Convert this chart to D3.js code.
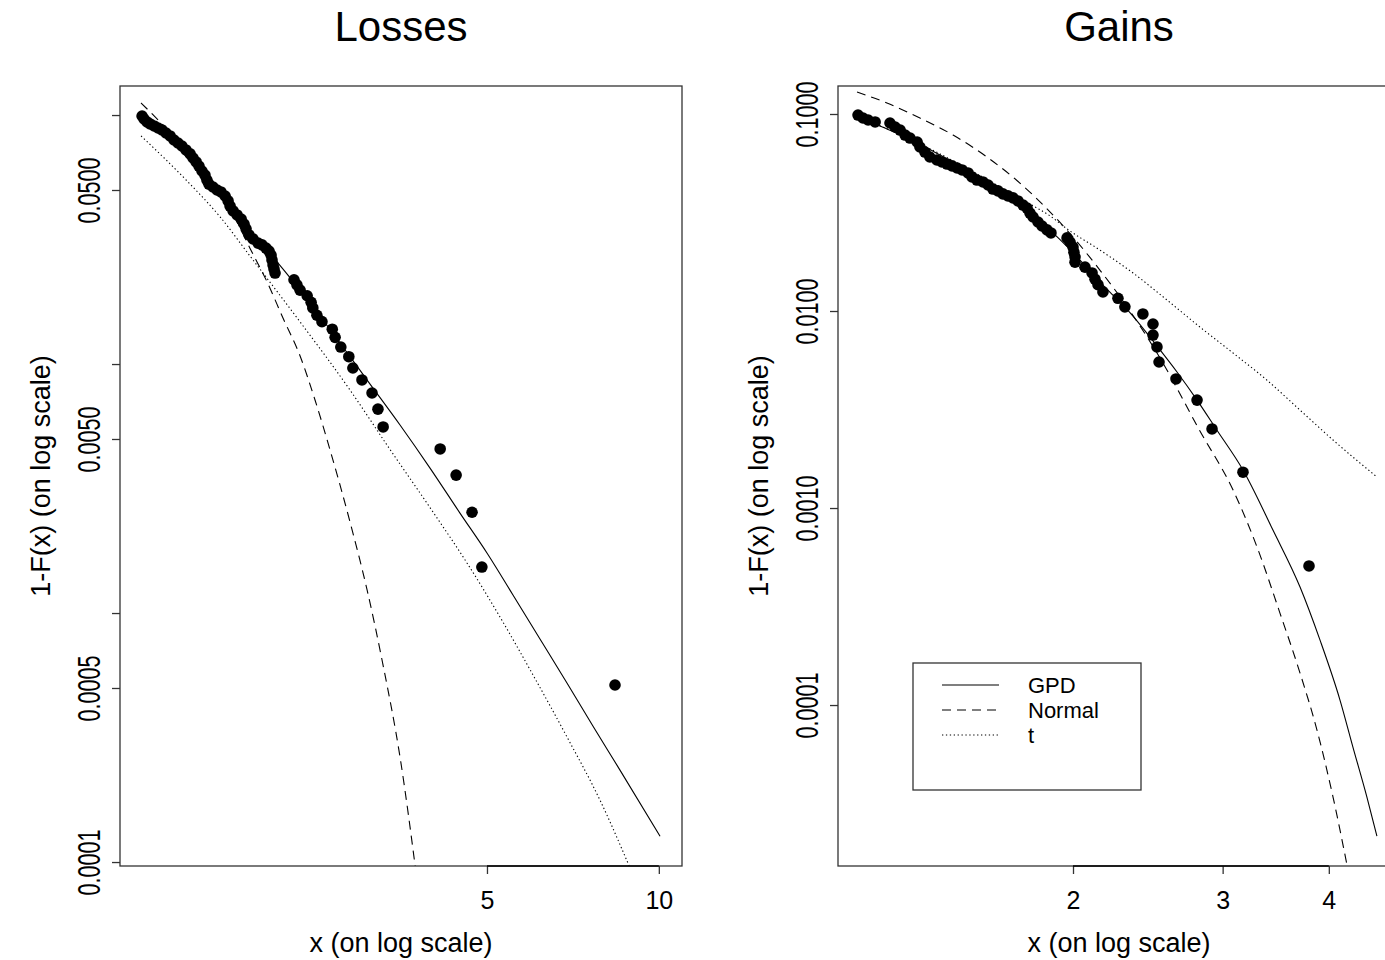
<!DOCTYPE html>
<html>
<head>
<meta charset="utf-8">
<script src="https://cdn.jsdelivr.net/npm/d3@7"></script>
<style>
  body { margin: 0; background: #fff; }
  text { font-family: "Liberation Sans", Arial, Helvetica, sans-serif; fill: #000; }
</style>
</head>
<body>
<div id="chart"></div>
<script>
// ---- Losses: empirical tail points ----
const lossX = [1.244,1.254,1.269,1.285,1.306,1.327,1.348,1.370,1.393,1.415,1.438,1.461,1.485,1.510,1.528,1.547,1.565,1.584,1.603,1.616,1.629,1.656,1.683,1.710,1.739,1.760,1.774,1.796,1.825,1.855,1.877,1.892,1.915,1.946,1.986,2.018,2.051,2.076,2.093,2.101,2.110,2.118,2.127,
  2.296,2.323,2.353,2.421,2.460,2.477,2.518,2.570,2.679,2.710,2.773,2.864,2.911,3.020,3.145,3.221,3.289,4.140,4.415,4.708,4.898,8.380];
const lossY = [0.0991,0.0964,0.0938,0.0921,0.0904,0.0887,0.0871,0.0847,0.0824,0.0794,0.0772,0.0751,0.0724,0.0698,0.0672,0.0648,0.0624,0.0596,0.0574,0.0548,0.0528,0.0514,0.0500,0.0491,0.0473,0.0452,0.0431,0.0412,0.0397,0.0382,0.0365,0.0349,0.0330,0.0318,0.0306,0.0301,0.0292,0.0284,0.0274,0.0262,0.0250,0.0241,0.0232,
  0.0218,0.0208,0.0198,0.0188,0.0177,0.0168,0.0157,0.0148,0.0138,0.0128,0.0117,0.0107,0.00964,0.00863,0.00765,0.00659,0.00559,0.00456,0.00358,0.00254,0.00153,0.000514];

// Losses: fitted curves
const lossGpdX = [1.244,1.450,1.636,1.870,2.144,2.449,2.764,3.120,3.521,3.974,4.484,5.000,5.553,6.192,6.904,7.665,8.550,10.05];
const lossGpdY = [0.0991,0.0724,0.0524,0.0368,0.0257,0.01758,0.01215,0.00831,0.00569,0.00382,0.00252,0.001742,0.001182,0.000787,0.000524,0.000352,0.000234,0.000127];
const lossNormX = [1.239,1.365,1.510,1.670,1.810,1.922,2.060,2.196,2.353,2.499,2.655,2.878,3.083,3.288,3.521,3.770];
const lossNormY = [0.1118,0.0895,0.0698,0.0519,0.0386,0.0292,0.02136,0.01531,0.01077,0.00717,0.00452,0.00232,0.001238,0.000618,0.000264,0.0000847];
const lossTX = [1.239,1.492,1.704,1.922,2.353,2.878,3.368,4.022,4.613,5.270,6.020,6.904,7.885,9.010];
const lossTY = [0.0824,0.0543,0.0390,0.02716,0.01476,0.00786,0.00460,0.002545,0.001589,0.000964,0.000564,0.000318,0.0001775,0.0000887];

// ---- Gains: empirical tail points ----
const gainX = [1.117,1.132,1.148,1.170,1.218,1.235,1.252,1.269,1.286,1.311,1.321,1.339,1.357,1.383,1.402,1.422,1.441,1.461,1.481,1.505,1.521,1.542,1.567,1.589,1.610,1.632,1.654,1.677,1.700,1.723,1.747,1.766,1.780,1.795,1.819,1.839,1.864,1.884,
  1.968,1.984,2.000,2.005,2.011,2.011,2.066,2.106,2.123,2.140,2.169,2.259,2.302,2.417,2.484,2.484,2.511,2.525,2.644,2.799,2.915,3.170,3.791];
const gainY = [0.0988,0.0954,0.0932,0.0911,0.0900,0.0859,0.0829,0.0782,0.0755,0.0721,0.0680,0.0641,0.0605,0.0584,0.0571,0.0557,0.0545,0.0532,0.0520,0.0502,0.0479,0.0462,0.0452,0.0436,0.0416,0.0407,0.0393,0.0384,0.0375,0.0362,0.0345,0.0333,0.0314,0.0300,0.0283,0.0270,0.0258,0.0249,
  0.0235,0.0224,0.0211,0.0199,0.0188,0.0177,0.0167,0.0156,0.0145,0.0136,0.0125,0.0116,0.0105,0.00966,0.00859,0.00755,0.00657,0.00551,0.00452,0.00353,0.00252,0.00152,0.000508];

// Gains: fitted curves
const gainGpdX = [1.117,1.186,1.286,1.395,1.513,1.641,1.795,1.894,2.038,2.151,2.353,2.511,2.651,2.799,2.953,3.170,3.438,3.700,3.905,4.123,4.270,4.435,4.557];
const gainGpdY = [0.0977,0.0869,0.0746,0.0619,0.0508,0.0411,0.0304,0.0249,0.01815,0.01404,0.00943,0.00664,0.0049,0.00353,0.00249,0.00156,0.000773,0.000397,0.000214,0.000106,0.0000612,0.0000341,0.0000216];
const gainNormX = [1.114,1.208,1.321,1.445,1.584,1.732,1.864,2.000,2.151,2.334,2.532,2.821,3.086,3.293,3.504,3.700,3.874,4.046,4.225];
const gainNormY = [0.1293,0.1137,0.0954,0.0782,0.0605,0.0446,0.0330,0.02375,0.01614,0.0100,0.00577,0.00246,0.001234,0.000634,0.000293,0.0001453,0.0000746,0.0000341,0.0000137];
const gainTX = [1.117,1.186,1.286,1.395,1.513,1.641,1.780,1.879,1.968,2.151,2.353,2.580,2.821,3.086,3.382,3.700,4.046,4.557];
const gainTY = [0.0965,0.0869,0.0746,0.0627,0.0520,0.0426,0.0349,0.0304,0.0261,0.0204,0.0156,0.01137,0.00829,0.00612,0.00446,0.00314,0.002214,0.001437];

// ---- ticks ----
const lossXTicks = [5, 10];
const lossYTicks = [0.1, 0.05, 0.01, 0.005, 0.001, 0.0005, 0.0001];
const lossYLabelled = [0.05, 0.005, 0.0005, 0.0001];
const gainXTicks = [2, 3, 4];
const gainYTicks = [0.1, 0.01, 0.001, 0.0001];
const gainYLabelled = [0.1, 0.01, 0.001, 0.0001];

const legendNames = ["GPD", "Normal", "t"];
const dashes = { GPD: null, Normal: "9,6", t: "1.3,2.6" };

const W = 1385, H = 960;
const svg = d3.select("#chart").append("svg")
    .attr("width", W)
    .attr("height", H);

function drawPanel(p) {
    const x = d3.scaleLog().domain(p.xDomain).range([p.left, p.right]);
    const y = d3.scaleLog().domain(p.yDomain).range([p.bottom, p.top]);

    svg.append("clipPath").attr("id", "clip-" + p.name)
        .append("rect")
        .attr("x", p.left).attr("y", p.top)
        .attr("width", p.right - p.left).attr("height", p.bottom - p.top);

    const g = svg.append("g");
    const plot = g.append("g").attr("clip-path", "url(#clip-" + p.name + ")");

    const line = d3.line()
        .x((d) => x(d[0]))
        .y((d) => y(d[1]))
        .curve(d3.curveMonotoneX);

    p.curves.forEach((c) => {
        plot.append("path")
            .datum(d3.zip(c.xs, c.ys))
            .attr("d", line)
            .attr("fill", "none")
            .attr("stroke", "#000")
            .attr("stroke-width", 1.1)
            .attr("stroke-dasharray", dashes[c.name]);
    });

    plot.selectAll("circle.pt")
        .data(d3.zip(p.px, p.py))
        .enter().append("circle")
        .attr("class", "pt")
        .attr("cx", (d) => x(d[0]))
        .attr("cy", (d) => y(d[1]))
        .attr("r", 5.8)
        .attr("fill", "#000");

    // box
    g.append("rect")
        .attr("x", p.left).attr("y", p.top)
        .attr("width", p.right - p.left).attr("height", p.bottom - p.top)
        .attr("fill", "none")
        .attr("stroke", "#333")
        .attr("stroke-width", 1.3);

    // x axis
    const xa = g.append("g")
        .attr("transform", "translate(0," + p.bottom + ")")
        .call(d3.axisBottom(x).tickValues(p.xTicks).tickFormat(d3.format("d")).tickSize(8).tickPadding(17));
    xa.select(".domain").remove();
    xa.selectAll("line").attr("stroke", "#333").attr("stroke-width", 1.3);
    xa.selectAll("text").attr("font-size", 25).attr("fill", "#000");
    xa.append("line")
        .attr("x1", x(p.xTicks[0])).attr("x2", x(p.xTicks[p.xTicks.length - 1]))
        .attr("stroke", "#000").attr("stroke-width", 1.6);

    // y axis
    const fmt = d3.format(".4f");
    const ya = g.append("g")
        .attr("transform", "translate(" + p.left + ",0)")
        .call(d3.axisLeft(y).tickValues(p.yTicks).tickSize(8)
            .tickFormat((d) => p.yLabelled.includes(d) ? fmt(d) : ""));
    ya.select(".domain").remove();
    ya.selectAll("line").attr("stroke", "#333").attr("stroke-width", 1.3);
    ya.selectAll("text")
        .attr("x", null).attr("dy", null)
        .attr("text-anchor", "middle")
        .attr("font-size", 31)
        .attr("textLength", 66)
        .attr("lengthAdjust", "spacingAndGlyphs")
        .attr("transform", "translate(-20,0) rotate(-90)");

    // titles
    g.append("text")
        .attr("x", (p.left + p.right) / 2).attr("y", 41)
        .attr("text-anchor", "middle")
        .attr("font-size", 42)
        .text(p.title);
    g.append("text")
        .attr("x", (p.left + p.right) / 2).attr("y", 952)
        .attr("text-anchor", "middle")
        .attr("font-size", 27)
        .text("x (on log scale)");
    g.append("text")
        .attr("transform", "translate(" + (p.left - 70) + "," + ((p.top + p.bottom) / 2) + ") rotate(-90)")
        .attr("text-anchor", "middle")
        .attr("font-size", 27)
        .text("1-F(x) (on log scale)");

    if (p.legend) {
        const lg = g.append("g").attr("transform", "translate(" + p.legend[0] + "," + p.legend[1] + ")");
        lg.append("rect")
            .attr("width", 228).attr("height", 127)
            .attr("fill", "none").attr("stroke", "#333").attr("stroke-width", 1.3);
        legendNames.forEach((n, i) => {
            const ly = 22 + i * 25;
            lg.append("line")
                .attr("x1", 29).attr("x2", 86)
                .attr("y1", ly).attr("y2", ly)
                .attr("stroke", "#000").attr("stroke-width", 1.1)
                .attr("stroke-dasharray", dashes[n]);
            lg.append("text")
                .attr("x", 115).attr("y", ly + 8)
                .attr("font-size", 22)
                .text(n);
        });
    }
}

drawPanel({
    name: "loss", title: "Losses",
    left: 120, right: 682, top: 86, bottom: 866,
    xDomain: [1.138, 10.98], yDomain: [0.0000964, 0.1308],
    xTicks: lossXTicks, yTicks: lossYTicks, yLabelled: lossYLabelled,
    px: lossX, py: lossY,
    curves: [
        { name: "GPD", xs: lossGpdX, ys: lossGpdY },
        { name: "Normal", xs: lossNormX, ys: lossNormY },
        { name: "t", xs: lossTX, ys: lossTY }
    ]
});

drawPanel({
    name: "gain", title: "Gains",
    left: 838, right: 1400, top: 86, bottom: 866,
    xDomain: [1.058, 4.851], yDomain: [0.00001524, 0.1387],
    xTicks: gainXTicks, yTicks: gainYTicks, yLabelled: gainYLabelled,
    px: gainX, py: gainY,
    curves: [
        { name: "GPD", xs: gainGpdX, ys: gainGpdY },
        { name: "Normal", xs: gainNormX, ys: gainNormY },
        { name: "t", xs: gainTX, ys: gainTY }
    ],
    legend: [913, 663]
});
</script>
</body>
</html>
